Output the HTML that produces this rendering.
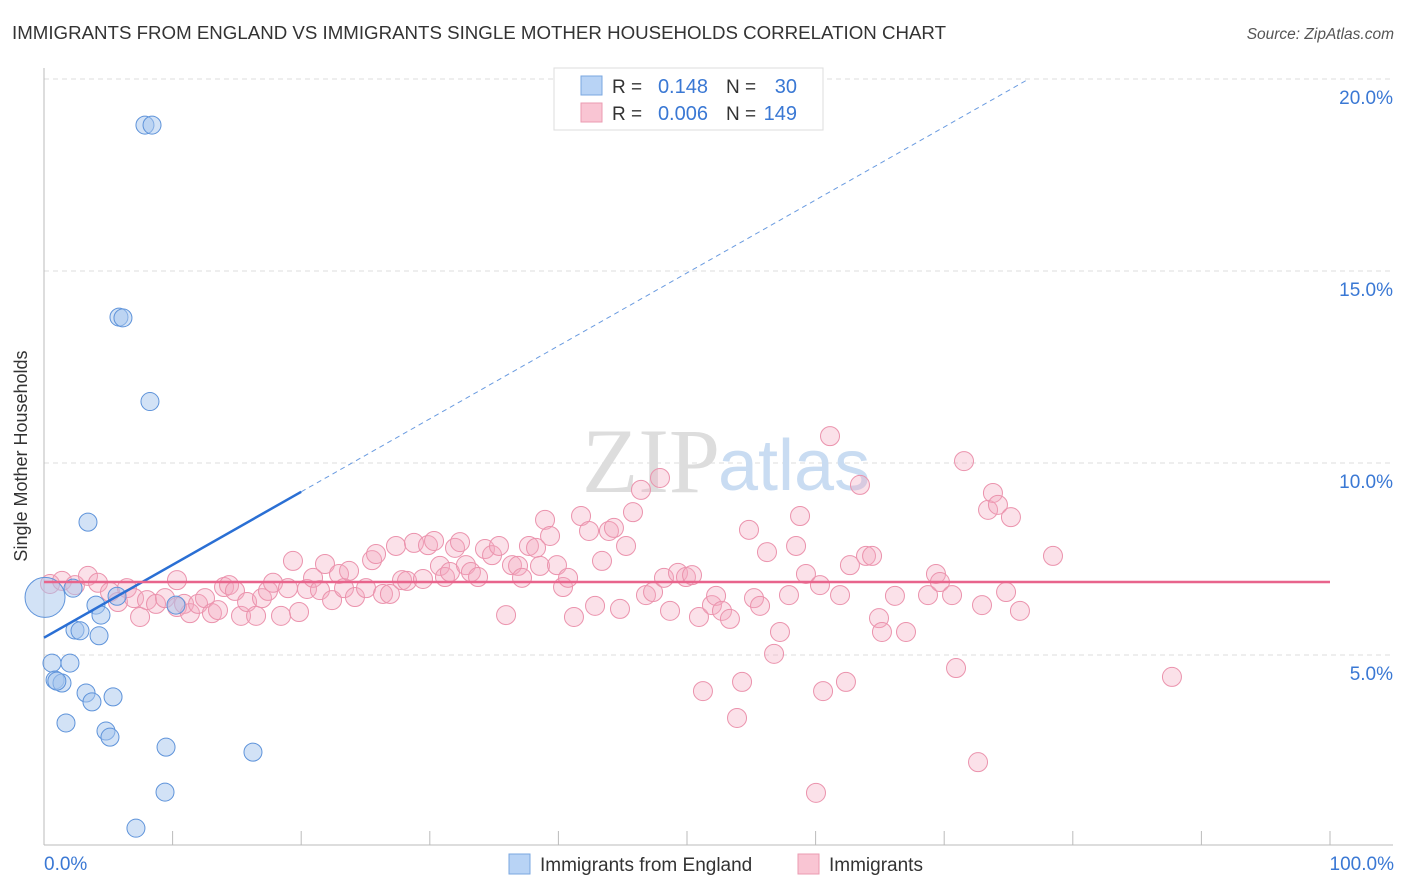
<!DOCTYPE html>
<html><head><meta charset="utf-8"><style>
body{margin:0;background:#fff;font-family:"Liberation Sans",sans-serif;}
svg{display:block}
</style></head><body>
<svg id="chart" width="1406" height="892">
<text x="12" y="39" font-size="18" fill="#333" textLength="934" lengthAdjust="spacingAndGlyphs">IMMIGRANTS FROM ENGLAND VS IMMIGRANTS SINGLE MOTHER HOUSEHOLDS CORRELATION CHART</text>
<text x="1394" y="39" font-size="15.5" fill="#555" font-style="italic" text-anchor="end">Source: ZipAtlas.com</text>
<g id="grid"></g>
<text x="720" y="492" font-size="92" fill="#ddd" text-anchor="end" font-family="Liberation Serif,serif">ZIP</text>
<text x="718" y="490" font-size="72" fill="#c9dcf2">atlas</text>
<g id="pink"></g>
<g id="blue"></g>
<g id="lines"></g>
<text x="27" y="456" font-size="18" fill="#333" text-anchor="middle" transform="rotate(-90 27 456)">Single Mother Households</text>
<g>
<rect x="554" y="68" width="269" height="62" fill="#fff" stroke="#ddd"/>
<rect x="581" y="76" width="21" height="19" fill="#b8d3f5" stroke="#7aa7e0"/>
<rect x="581" y="103" width="21" height="19" fill="#f9c5d3" stroke="#eb9bb2"/>
<text x="612" y="93" font-size="19" fill="#333">R =</text><text x="708" y="93" font-size="20" fill="#3a78d4" text-anchor="end">0.148</text>
<text x="726" y="93" font-size="19" fill="#333">N =</text><text x="797" y="93" font-size="20" fill="#3a78d4" text-anchor="end">30</text>
<text x="612" y="120" font-size="19" fill="#333">R =</text><text x="708" y="120" font-size="20" fill="#3a78d4" text-anchor="end">0.006</text>
<text x="726" y="120" font-size="19" fill="#333">N =</text><text x="797" y="120" font-size="20" fill="#3a78d4" text-anchor="end">149</text>
</g>
<g>
<rect x="509" y="854" width="21" height="20" fill="#b8d3f5" stroke="#7aa7e0"/>
<text x="540" y="871" font-size="19" fill="#333">Immigrants from England</text>
<rect x="798" y="854" width="21" height="20" fill="#f9c5d3" stroke="#eb9bb2"/>
<text x="829" y="871" font-size="19" fill="#333">Immigrants</text>
</g>
</svg>
<script>
const yTicks=[5,10,15,20];
const yTickLabels=["5.0%","10.0%","15.0%","20.0%"];
const xTickLabels=["0.0%","100.0%"];
const blueX=[7.85,8.4,5.83,6.14,8.24,3.42,0.08,2.26,5.68,4.04,4.43,4.28,2.41,2.8,0.62,2.02,0.86,1.4,1.0,3.27,3.73,5.37,1.71,4.82,5.13,9.49,16.25,9.41,7.15,10.26];
const blueY=[18.8,18.8,13.8,13.78,11.6,8.46,6.5,6.74,6.53,6.3,6.04,5.5,5.65,5.63,4.79,4.79,4.35,4.27,4.32,4.01,3.78,3.91,3.23,3.02,2.86,2.6,2.47,1.43,0.49,6.3];
const blueR=[9,9,9,9,9,9,20,9,9,9,9,9,9,9,9,9,9,9,9,9,9,9,9,9,9,9,9,9,9,9];
const pinkX=[0.47,1.4,2.41,3.42,4.2,5.13,5.75,6.45,7.0,7.47,8.01,8.71,9.41,10.34,10.34,10.89,11.35,11.98,12.52,13.06,13.53,14.0,14.39,14.85,15.32,15.79,16.49,16.95,17.42,17.81,18.43,18.97,19.36,19.83,20.45,20.92,21.46,21.85,22.4,22.94,23.33,23.72,24.18,25.04,25.51,25.82,26.36,26.9,27.37,27.84,28.23,28.77,29.47,29.86,30.33,30.79,31.18,31.57,31.96,32.35,32.81,33.2,33.75,34.29,34.84,35.38,35.93,36.39,36.86,37.17,37.71,38.26,38.57,38.96,39.35,39.89,40.36,40.75,41.21,41.76,42.38,42.85,43.39,43.93,44.32,44.79,45.26,45.8,46.42,46.81,47.36,47.9,48.21,48.68,49.3,49.92,50.39,50.93,51.24,51.94,52.26,52.72,53.34,53.89,54.28,54.82,55.21,55.68,56.22,56.77,57.23,57.93,58.48,58.79,59.25,60.03,60.34,60.58,61.12,61.9,62.36,62.67,63.45,63.92,64.39,64.93,65.16,66.17,67.03,68.74,69.36,69.67,70.61,70.92,71.54,72.63,72.94,73.41,73.79,74.18,74.81,75.19,75.89,78.46,87.71];
const pinkY=[6.85,6.93,6.82,7.06,6.88,6.64,6.38,6.74,6.48,5.99,6.43,6.33,6.48,6.95,6.25,6.33,6.09,6.33,6.48,6.09,6.17,6.77,6.82,6.67,6.02,6.38,6.02,6.48,6.67,6.88,6.02,6.74,7.45,6.12,6.72,7.01,6.69,7.37,6.43,7.11,6.74,7.19,6.51,6.74,7.47,7.63,6.59,6.59,7.84,6.95,6.93,7.92,6.98,7.86,7.97,7.32,7.03,7.16,7.79,7.94,7.34,7.16,7.03,7.76,7.6,7.84,6.04,7.34,7.32,7.01,7.84,7.79,7.32,8.52,8.1,7.34,6.77,7.01,5.99,8.62,8.23,6.28,7.45,8.23,8.31,6.2,7.84,8.72,9.3,6.56,6.64,9.61,7.01,6.15,7.14,7.03,7.08,5.99,4.06,6.3,6.54,6.15,5.94,3.36,4.3,8.26,6.48,6.28,7.68,5.03,5.6,6.56,7.84,8.62,7.11,1.41,6.82,4.06,10.7,6.56,4.3,7.34,9.43,7.58,7.58,5.96,5.6,6.54,5.6,6.56,7.11,6.9,6.56,4.66,10.05,2.21,6.3,8.78,9.22,8.91,6.64,8.59,6.15,7.58,4.43];
const blueTrend=[5.45,0.19];   // intercept, slope (% per %)
const pinkTrend=[6.9,0.0];
const X0=44,X1=1330,YB=847,PX=38.4;
const sx=v=>X0+(X1-X0)*v/100, sy=v=>YB-v*PX;
const NS="http://www.w3.org/2000/svg";
function mk(tag,attrs,parent){const e=document.createElementNS(NS,tag);for(const k in attrs)e.setAttribute(k,attrs[k]);parent.appendChild(e);return e;}
const grid=document.getElementById('grid');
yTicks.forEach((t,i)=>{
 const l=mk('line',{x1:44,x2:1393,y1:sy(t),y2:sy(t),stroke:'#ddd','stroke-dasharray':'5,4'},grid);
 
 
 const tx=mk('text',{x:1393,y:sy(t)+25,'font-size':19,fill:'#3a78d4','text-anchor':'end'},grid);tx.textContent=yTickLabels[i];
 
 
});
const ax=mk('line',{x1:44,x2:44,y1:68,y2:845,stroke:'#bbb'},grid);


const bx=mk('line',{x1:44,x2:1393,y1:845,y2:845,stroke:'#bbb'},grid);


for(let i=1;i<=10;i++){const t=mk('line',{x1:sx(i*10),x2:sx(i*10),y1:831,y2:845,stroke:'#bbb'},grid);
 
 }
[[0,'start'],[100,'end']].forEach((p,i)=>{const t=mk('text',{x:i?1394:44,y:870,'font-size':19,fill:'#3a78d4','text-anchor':p[1]},grid);t.textContent=xTickLabels[i];
 
 });
const pg=document.getElementById('pink');
pinkX.forEach((x,i)=>{const c=mk('circle',{cx:sx(x),cy:sy(pinkY[i]),r:9.5,fill:'rgba(244,170,192,0.35)',stroke:'#eb93ad','stroke-width':1},pg);
 
 });
const bg=document.getElementById('blue');
blueX.forEach((x,i)=>{const c=mk('circle',{cx:sx(x),cy:sy(blueY[i]),r:blueR[i],fill:'rgba(165,198,238,0.5)',stroke:'#5e93da','stroke-width':1},bg);
 
 });
const lg=document.getElementById('lines');
const b0=blueTrend[0],b1=blueTrend[1],xe=(20-b0)/b1;
const l1=mk('line',{x1:sx(0),y1:sy(b0),x2:sx(20),y2:sy(b0+b1*20),stroke:'#2a6fd4','stroke-width':2.5},lg);


const l2=mk('line',{x1:sx(20),y1:sy(b0+b1*20),x2:sx(xe),y2:sy(20),stroke:'#6a9be0','stroke-width':1,'stroke-dasharray':'5,4'},lg);


const l3=mk('line',{x1:sx(0),y1:sy(pinkTrend[0]),x2:sx(100),y2:sy(pinkTrend[0]+pinkTrend[1]*100),stroke:'#e8648c','stroke-width':2.5},lg);


</script>
</body></html>
